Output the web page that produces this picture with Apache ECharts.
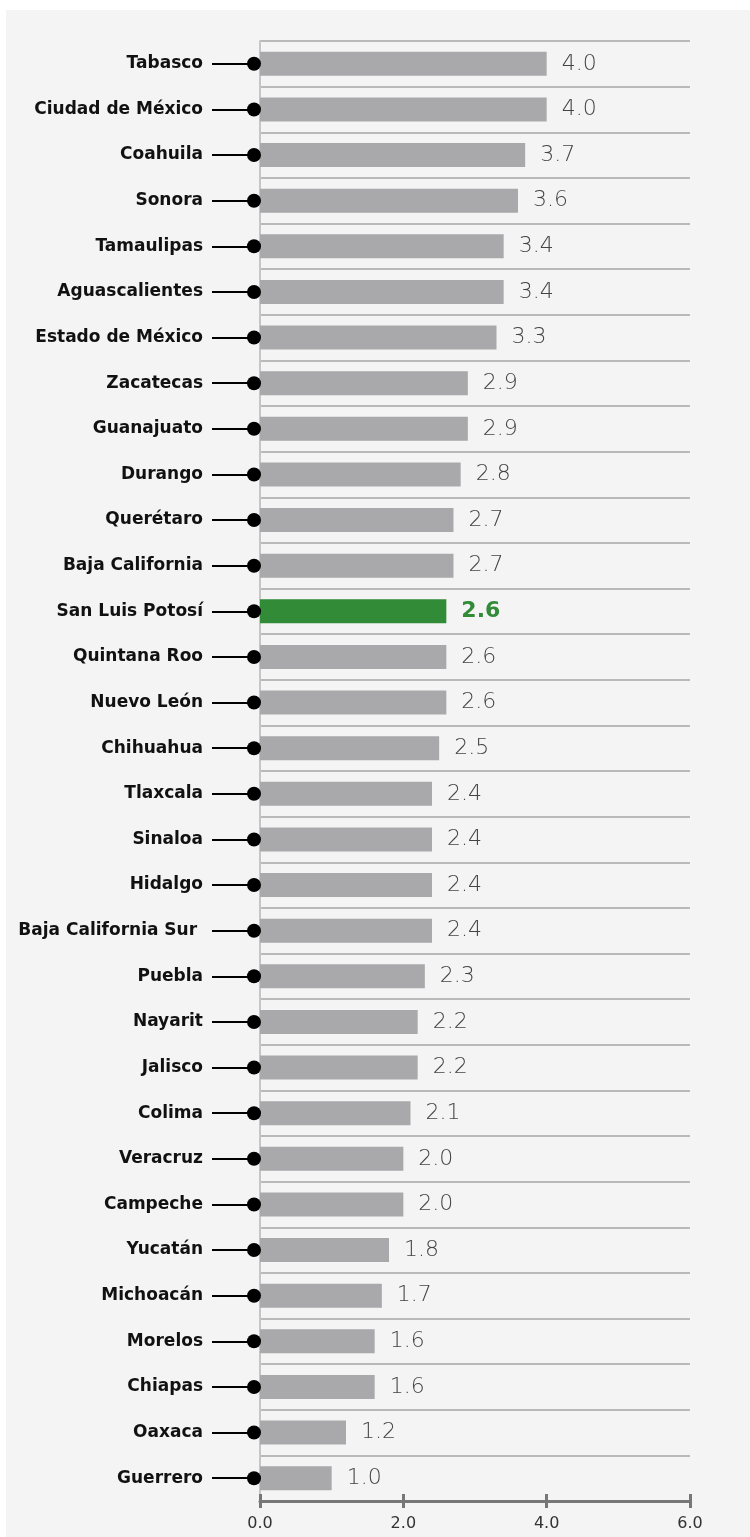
<!DOCTYPE html>
<html>
<head>
<meta charset="utf-8">
<script src="https://cdn.jsdelivr.net/npm/echarts@6/dist/echarts.min.js"></script>
<style>
  html, body { margin: 0; padding: 0; background: #ffffff; }
  #panel { position: absolute; left: 6px; top: 10px; width: 744px; height: 1527px; background: #f4f4f4; }
  #chart { position: absolute; left: 0; top: 0; width: 750px; height: 1537px; }
</style>
</head>
<body>
<div id="panel"></div>
<div id="chart"></div>
<script>
// estados, ordenados de mayor a menor
const states = [
  'Tabasco', 'Ciudad de México', 'Coahuila', 'Sonora', 'Tamaulipas', 'Aguascalientes',
  'Estado de México', 'Zacatecas', 'Guanajuato', 'Durango', 'Querétaro', 'Baja California',
  'San Luis Potosí', 'Quintana Roo', 'Nuevo León', 'Chihuahua', 'Tlaxcala', 'Sinaloa',
  'Hidalgo', 'Baja California Sur ', 'Puebla', 'Nayarit', 'Jalisco', 'Colima',
  'Veracruz', 'Campeche', 'Yucatán', 'Michoacán', 'Morelos', 'Chiapas', 'Oaxaca', 'Guerrero'
]
const values = [
  4.0, 4.0, 3.7, 3.6, 3.4, 3.4,
  3.3, 2.9, 2.9, 2.8, 2.7, 2.7,
  2.6, 2.6, 2.6, 2.5, 2.4, 2.4,
  2.4, 2.4, 2.3, 2.2, 2.2, 2.1,
  2.0, 2.0, 1.8, 1.7, 1.6, 1.6, 1.2, 1.0
]
const highlight = 'San Luis Potosí'
const xTicks = { min: 0, max: 6, interval: 2 }

const grey = '#a9a9ac'
const green = '#318b37'
const font = 'DejaVu Sans'

const chart = echarts.init(document.getElementById('chart'))

const barData = values.map((v, i) => {
  if (states[i] !== highlight) return v
  return {
    value: v,
    itemStyle: { color: green },
    label: { color: green, fontWeight: 'bold', fontSize: 22 },
  }
})

chart.setOption({
  backgroundColor: 'transparent',
  animation: false,
  grid: { left: 260, right: 60, top: 41, bottom: 36 },
  xAxis: [
    {
      type: 'value',
      position: 'bottom',
      min: xTicks.min, max: xTicks.max, interval: xTicks.interval,
      axisLine: { show: true, lineStyle: { color: '#777', width: 3 } },
      axisTick: { show: true, length: 7, lineStyle: { color: '#777', width: 3 } },
      axisLabel: {
        margin: 15, color: '#333', fontSize: 16, fontFamily: font,
        formatter: (v) => v.toFixed(1),
      },
      splitLine: { show: false },
    },
    {
      // upper half of the bottom ticks
      type: 'value',
      position: 'top',
      offset: -1460,
      min: xTicks.min, max: xTicks.max, interval: xTicks.interval,
      axisLine: { show: false },
      axisTick: { show: true, length: 7, lineStyle: { color: '#777', width: 3 } },
      axisLabel: { show: false },
      splitLine: { show: false },
    },
  ],
  yAxis: {
    type: 'category',
    inverse: true,
    data: states,
    axisLine: { show: true, lineStyle: { color: '#c6c6c6', width: 2 } },
    axisTick: { show: true, alignWithLabel: true, length: 48, lineStyle: { color: '#000', width: 2 } },
    axisLabel: {
      margin: 57, color: '#111', fontSize: 17, fontWeight: 'bold', fontFamily: font,
    },
    splitLine: { show: true, lineStyle: { color: '#b9b9b9', width: 2 } },
  },
  series: [
    {
      type: 'bar',
      data: barData,
      barWidth: 24,
      itemStyle: { color: grey },
      label: {
        show: true, position: 'right', distance: 15,
        color: '#444', fontSize: 22, fontFamily: font, fontWeight: 200,
        formatter: (p) => p.value.toFixed(1),
      },
      z: 2,
    },
    {
      type: 'scatter',
      data: states.map((s) => [0, s]),
      symbol: 'circle',
      symbolSize: 14,
      symbolOffset: [-6, 0],
      itemStyle: { color: '#000', opacity: 1 },
      clip: false,
      silent: true,
      z: 5,
    },
  ],
})
</script>
</body>
</html>
